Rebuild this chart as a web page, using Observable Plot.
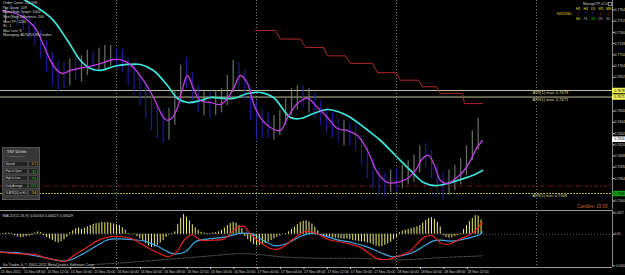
<!DOCTYPE html>
<html><head><meta charset="utf-8">
<script src="https://cdn.jsdelivr.net/npm/d3@7"></script>
<script src="https://cdn.jsdelivr.net/npm/@observablehq/plot@0.6"></script>
<style>
html,body{margin:0;padding:0;background:#000;overflow:hidden;}
#wrap{position:relative;width:625px;height:275px;background:#000;overflow:hidden;}
#main{position:absolute;left:0;top:0;}
#sub{position:absolute;left:0;top:208px;}
#ov{position:absolute;left:0;top:0;width:1250px;height:550px;transform:scale(0.5);transform-origin:0 0;font-family:"Liberation Sans",Arial,sans-serif;color:#d0d0d0;pointer-events:none;}
#ov div{position:absolute;white-space:pre;}
</style></head>
<body><div id="wrap"><div id="main"></div><div id="sub"></div><div id="ov"></div></div>
<script>
// ---------- time axis (hours since 15 Nov 2011 00:00) ----------
const xTickHours = [4,8,12,16,20,24,28,32,36,40,44,48,52,56,60,64,68,72,76,80,84];
const xTickLabels = ["15 Nov 2011","15 Nov 08:00","15 Nov 12:00","15 Nov 16:00","15 Nov 20:00","16 Nov 00:00","16 Nov 04:00","16 Nov 08:00","16 Nov 12:00","16 Nov 16:00","16 Nov 20:00","17 Nov 00:00","17 Nov 04:00","17 Nov 08:00","17 Nov 12:00","17 Nov 16:00","17 Nov 20:00","18 Nov 00:00","18 Nov 04:00","18 Nov 08:00","18 Nov 12:00"];
const daySeparators = [24, 48, 72, 96];

// ---------- price axis ----------
const priceTicks = [0.7764,0.7752,0.7740,0.7728,0.7716,0.7704,0.7692,0.7680,0.7668,0.7656,0.7644,0.7632,0.7620,0.7608,0.7596,0.7584,0.7572,0.7560];
const atrMax = [0.7678, 0.7671];
const atrMin = 0.7568;
const bidPrice = 0.7626;
const redLevel = 0.7576;
const atrLabelHour = 95.3;

// ---------- hourly bars (first bar 15 Nov 05:00) ----------
const barStartHour = 5;
const barHigh = [0.7766,0.7769,0.7766,0.7761,0.7758,0.7751,0.7742,0.7731,0.7719,0.7710,
 0.7708,0.7712,0.7715,0.7715,0.7721,0.7719,0.7723,0.7726,0.7726,0.7723,
 0.7721,0.7712,0.7705,0.7694,0.7683,0.7673,0.7662,0.7657,0.7659,0.7678,
 0.7705,0.7712,0.7697,0.7683,0.7678,0.7676,0.7678,0.7680,0.7694,0.7710,
 0.7708,0.7699,0.7680,0.7667,0.7657,0.7654,0.7651,0.7657,0.7669,0.7680,
 0.7683,0.7683,0.7680,0.7676,0.7667,0.7659,0.7654,0.7648,0.7646,0.7644,
 0.7641,0.7630,0.7619,0.7605,0.7595,0.7590,0.7593,0.7595,0.7598,0.7603,
 0.7609,0.7619,0.7622,0.7614,0.7598,0.7590,0.7593,0.7598,0.7605,0.7619,
 0.7635,0.7648];
const barLow = [0.7751,0.7753,0.7747,0.7742,0.7734,0.7726,0.7712,0.7697,0.7683,0.7676,
 0.7680,0.7683,0.7689,0.7687,0.7694,0.7697,0.7699,0.7701,0.7704,0.7701,
 0.7697,0.7683,0.7673,0.7662,0.7648,0.7635,0.7627,0.7622,0.7625,0.7641,
 0.7667,0.7680,0.7667,0.7654,0.7651,0.7648,0.7651,0.7654,0.7662,0.7676,
 0.7678,0.7667,0.7646,0.7625,0.7627,0.7627,0.7625,0.7630,0.7641,0.7651,
 0.7657,0.7659,0.7654,0.7648,0.7641,0.7633,0.7627,0.7622,0.7619,0.7619,
 0.7614,0.7598,0.7584,0.7573,0.7566,0.7565,0.7569,0.7571,0.7573,0.7577,
 0.7580,0.7590,0.7595,0.7584,0.7566,0.7561,0.7566,0.7571,0.7577,0.7587,
 0.7603,0.7614];
const barDir = "uddddddddd"+"duduuduuud"+"dddddddduu"+"uddduduuuu"+"dddddduuuu"+"ududddddud"+"dddddduduu"+"uudddduuuu"+"uu";

// ---------- moving averages ----------
const slowMaHours = [7.54,12.69,15.60,17.83,19.54,21.26,23.49,25.89,28.11,30.34,32.74,34.46,36.17,38.40,40.11,42.34,44.06,46.46,48.68,50.91,53.83,55.54,57.77,60.17,62.40,64.11,66.69,69.26,71.83,74.40,76.63,78.69,80.74,82.97,85.03,86.74];
const slowMaValues = [0.77773,0.77560,0.77314,0.77100,0.77015,0.76994,0.77036,0.77058,0.77058,0.76994,0.76833,0.76695,0.76652,0.76673,0.76705,0.76695,0.76695,0.76748,0.76759,0.76705,0.76491,0.76481,0.76534,0.76577,0.76545,0.76491,0.76374,0.76246,0.76086,0.75926,0.75798,0.75765,0.75787,0.75830,0.75872,0.75926];
const fastMaHours = [4.46,6.17,8.40,10.11,11.31,12.34,13.54,14.74,16.11,17.49,19.20,21.26,23.49,25.20,26.91,28.63,30.34,32.06,32.74,33.60,34.46,35.31,36.17,37.20,38.40,40.11,41.83,43.03,44.06,45.26,46.46,47.49,48.68,50.40,52.11,53.31,55.03,56.74,58.46,60.17,61.89,63.60,65.31,67.03,68.74,70.46,72.17,73.89,75.26,76.46,77.49,78.51,79.54,80.74,82.11,83.31,84.69,85.71,86.74];
const fastMaValues = [0.77634,0.77613,0.77549,0.77442,0.77293,0.77143,0.77015,0.76962,0.76994,0.77015,0.77036,0.77068,0.77111,0.77100,0.77026,0.76887,0.76705,0.76491,0.76460,0.76491,0.76598,0.76801,0.76940,0.76801,0.76673,0.76652,0.76630,0.76695,0.76801,0.76940,0.76855,0.76641,0.76491,0.76385,0.76353,0.76491,0.76641,0.76695,0.76598,0.76491,0.76374,0.76353,0.76299,0.76139,0.75904,0.75798,0.75798,0.75840,0.75926,0.76054,0.76086,0.75979,0.75819,0.75787,0.75840,0.75904,0.76033,0.76161,0.76246];

// ---------- trailing stop steps ----------
const stopHours = [47.83,51.26,52.11,55.54,56.40,59.50,60.17,63.26,64.11,67.89,68.74,71.97,72.66,75.77,76.46,78.86,79.54,83.31,83.66,86.74];
const stopValues = [0.7742,0.7742,0.7733,0.7733,0.7724,0.7724,0.7715,0.7715,0.7707,0.7707,0.7697,0.7697,0.7689,0.7689,0.7682,0.7682,0.7675,0.7675,0.7664,0.7664];

// ---------- MACD (values in units of 0.00001), half-hourly from 04:30 ----------
const histStartHour = 4.5;
const macdHist = [10,15,12,8, -20,-35,-45,-40,-30,-25,-15, 15,30,20,
 -20,-40,-60,-80,-100,-110,-95,-70,-40,
 20,45,70,80,60,75,95,110,125,135,140,150,145,150,140,130,120,110,80,50,
 10,-5,5, -30,-60,-90,-120,-150,-165,-160,-140,-110,-80,-40,
 -10,10,30, 120,200,250,215, 170,120,80,50, 25,15,10,10,15,20,30,
 50,80,110,135,150,140,110,70,
 -30,-70,-100,-130,-145,-140,-130,-120,-100,-80,-60,-40,-20, -5,10,
 30,60,90,120,150,165,170,155,130,90,45,
 -10,-20,-30,-40,-45,-50,-55,-60,-65,-60,-70,-80,-85,-90,-95,-100,-110,-120,-135,-150,-160,-155,-140,-120,-100,-70,-40,
 20,40,50,60,70,80,95,110,140,175,200,210,190,150,90,
 -20,-40,-50,-45,-30,-15,10, 60,110,160,200,235,230,180];
const macdRedHours = [4.1,6.9,10.3,11.7,13.7,15.1,17.1,18.5,20.6,22.6,24.7,26.7,28.8,30.9,32.9,34.3,35.7,37.0,38.4,40.5,42.5,44.6,45.9,46.6,48.7,50.7,52.1,54.2,56.2,58.3,60.3,63.1,65.8,68.6,70.6,72.0,74.1,76.8,78.2,79.5,80.9,83.0,85.0,86.7];
const macdRedValues = [-225,-245,-257,-296,-324,-344,-245,-186,-87,-36,-28,-59,-146,-225,-284,-225,-67,-8,-75,-75,-59,83,99,32,-107,-186,-178,-67,32,12,-67,-107,-166,-304,-316,-284,-225,-36,-20,-107,-126,-59,12,150];
const macdBlueHours = [4.1,6.9,9.6,12.3,14.4,15.8,17.8,20.6,22.6,24.7,26.7,28.8,30.9,33.6,35.7,37.7,39.8,42.5,45.3,47.3,49.4,51.4,53.5,55.5,57.6,59.7,61.7,64.5,67.2,69.3,71.3,72.7,74.7,76.8,78.2,79.5,81.6,83.7,86.4,86.7];
const macdBlueValues = [-225,-233,-265,-304,-336,-332,-265,-146,-67,-59,-67,-87,-146,-245,-225,-87,-59,-36,12,4,-87,-146,-107,-28,12,-20,-67,-107,-166,-233,-284,-273,-233,-146,-87,-75,-87,-59,0,32];
const macdDotHours = [19.9,24.7,31.5,38.4,45.3,48.7,52.1,59.0,65.8,72.7,79.5,86.7];
const macdDotValues = [-383,-363,-324,-284,-245,-257,-284,-304,-304,-324,-296,-273];
const macdTicks = [0.0027, 0, -0.0040];

// ---------- texts ----------
const infoLines = ["Order Count: 111.096","Pip Count: 109","Base Stop Target: 1000","Next Stop Difference: 200","Next TP: 1200","SL: 1","Max Lots: 8","Managing: All NZDUSD trades"];
const atrTexts = ["ATR(1) max: 0.7678","ATR(1) max: 0.7671","ATR(1) min: 0.7568"];
const candleTimer = "Candles: 15:09";
const macdTitle = "MACD(12,26,9) 0.00163 0.00027 0.00029";
const copyright = "Go Trader 4, \u00a9 2001-2011 MetaQuotes Software Corp.";
const mtfTitle = "ManageTP v2.4";
const mtfSymbol = "NZDUSD";
const mtfPeriods = ["H1","H4","D1","W1","MN"];
const mtfDirs = ["down","up","up","down","down"];
const mtfStrength = ["66","71","33","28","33"];
const tsvTitle = "TSV '04 Info";
const tsvSub = "\u00a9 Peter G in FF";
const tsvLabels = ["Spread:","Pips to Open:","High to Low:","Daily Average:","% ATR(20) to H-L:"];
const tsvValues = ["3.7","32","93","123","54"];

// ---------- build tables ----------
const X0 = 4.114, X1 = 109.03;
const P0 = 0.755091, P1 = 0.777412;
const M0 = -0.0042, M1 = 0.0030;
const fmt4 = d3.format(".4f");
const labelMap = new Map(xTickHours.map((h, i) => [h, xTickLabels[i]]));
const bars = barHigh.map((hi, i) => ({h: barStartHour + i, hi, lo: barLow[i], up: barDir[i] === "u"}));
const slowMa = slowMaHours.map((h, i) => ({h, p: slowMaValues[i]}));
const fastMa = fastMaHours.map((h, i) => ({h, p: fastMaValues[i]}));
const stops = stopHours.map((h, i) => ({h, p: stopValues[i]}));
const hist = macdHist.map((v, i) => ({h: histStartHour + i * 0.5, v: v / 1e5}));
const red = macdRedHours.map((h, i) => ({h, v: macdRedValues[i] / 1e5}));
const blue = macdBlueHours.map((h, i) => ({h, v: macdBlueValues[i] / 1e5}));
const dots = macdDotHours.map((h, i) => ({h, v: macdDotValues[i] / 1e5}));
const atrLabels = [{p: atrMax[0], t: atrTexts[0]}, {p: atrMax[1], t: atrTexts[1]}, {p: atrMin, t: atrTexts[2]}];
const priceTags = [
  {p: atrMax[0], bg: "#f2f25a", fg: "#000"},
  {p: atrMax[1], bg: "#f2f25a", fg: "#000"},
  {p: bidPrice, bg: "#ffffff", fg: "#000"},
  {p: atrMin, bg: "#1c9c1c", fg: "#000"}
];
// grid labels hidden where a highlighted price tag sits (as in the terminal)
const shownTicks = priceTicks.filter(t => priceTags.every(g => Math.abs(g.p - t) > 0.0005));

const FONT = "'Liberation Sans', Arial, sans-serif";
const GRID = "#8c8c8c";

const main = Plot.plot({
  width: 625, height: 209,
  marginTop: 0, marginBottom: 0, marginLeft: 0, marginRight: 13,
  style: {background: "transparent", overflow: "visible", fontFamily: FONT, color: "#d0d0d0"},
  x: {domain: [X0, X1], axis: null},
  y: {domain: [P0, P1], axis: null},
  color: {type: "identity"},
  marks: [
    Plot.ruleX(daySeparators, {stroke: GRID, strokeDasharray: "1,2", strokeWidth: 0.9}),
    Plot.ruleY(atrMax, {stroke: "#d6d6a6", strokeWidth: 0.9}),
    Plot.ruleY([atrMin], {stroke: "#c2c24e", strokeWidth: 0.9, strokeDasharray: "2,1"}),
    Plot.ruleY([redLevel], {stroke: "#8e1c1c", strokeWidth: 0.9, strokeDasharray: "4,2,1,2"}),
    Plot.ruleX(bars, {x: "h", y1: "lo", y2: "hi", stroke: d => d.up ? "#7e8e7e" : "#2222b8", strokeWidth: 1.2, strokeOpacity: 0.8}),
    Plot.line(stops, {x: "h", y: "p", stroke: "#b02a2a", strokeWidth: 1}),
    Plot.line(slowMa, {x: "h", y: "p", stroke: "#3ee6dc", strokeWidth: 1.7, curve: "catmull-rom", clip: true}),
    Plot.line(fastMa, {x: "h", y: "p", stroke: "#c040e4", strokeWidth: 1.3, curve: "catmull-rom", clip: true}),
    Plot.text(atrLabels, {x: atrLabelHour, y: "p", text: "t", dy: 2.3, textAnchor: "start", fill: "#d8d89c", fontSize: 4}),
    Plot.text([candleTimer], {frameAnchor: "bottom-right", dx: -5, dy: -2, fill: "#c4602c", fontSize: 4.5}),
    Plot.ruleX([X1], {stroke: GRID, strokeWidth: 1}),
    Plot.axisY({anchor: "right", ticks: shownTicks, tickFormat: fmt4, tickSize: 1.5, tickPadding: 0.5, fontSize: 3.4, color: "#d4d4d4", label: null}),
    Plot.ruleY(priceTags, {y: "p", x1: X1, x2: X1 + 3, stroke: "bg", strokeWidth: 5.5}),
    Plot.text(priceTags, {y: "p", x: X1, dx: 1.8, text: d => fmt4(d.p), textAnchor: "start", fill: "fg", fontSize: 3.4})
  ]
});
document.getElementById("main").appendChild(main);

const sub = Plot.plot({
  width: 625, height: 67,
  marginTop: 2, marginBottom: 8, marginLeft: 0, marginRight: 13,
  style: {background: "transparent", overflow: "visible", fontFamily: FONT, color: "#d0d0d0"},
  x: {domain: [X0, X1]},
  y: {domain: [M0, M1]},
  marks: [
    Plot.ruleX(daySeparators, {stroke: GRID, strokeDasharray: "1,2", strokeWidth: 0.9}),
    Plot.ruleY([0], {stroke: "#5a5a5a", strokeDasharray: "1,2"}),
    Plot.ruleX(hist, {x: "h", y1: 0, y2: "v", stroke: "#f0f070", strokeWidth: 1}),
    Plot.line(dots, {x: "h", y: "v", stroke: "#7a7a7a", strokeDasharray: "1,1.5", strokeWidth: 0.8, curve: "catmull-rom"}),
    Plot.line(blue, {x: "h", y: "v", stroke: "#3eaae4", strokeWidth: 1.2, curve: "catmull-rom"}),
    Plot.line(red, {x: "h", y: "v", stroke: "#e02222", strokeWidth: 1.2, curve: "catmull-rom"}),
    Plot.ruleY([M0, M1], {stroke: "#9a9a9a", strokeWidth: 1}),
    Plot.ruleX([X1], {stroke: GRID, strokeWidth: 1}),
    Plot.axisY({anchor: "right", ticks: macdTicks, tickFormat: d => d === 0 ? "0.00" : d3.format(".4f")(d), tickSize: 1.5, tickPadding: 0.5, fontSize: 3.0, color: "#d4d4d4", label: null}),
    Plot.axisX({anchor: "bottom", ticks: xTickHours, tickFormat: d => labelMap.get(d), textAnchor: "start", tickSize: 2, tickPadding: 1, dx: 0.8, fontSize: 3.6, color: "#d0d0d0", label: null}),
    Plot.text([macdTitle], {frameAnchor: "top-left", dx: 2, dy: 4, fill: "#d0d0d0", fontSize: 3.8}),
    Plot.text([copyright], {frameAnchor: "bottom-left", dx: 2, dy: -1.5, fill: "#d0d0d0", fontSize: 3.8})
  ]
});
document.getElementById("sub").appendChild(sub);

// ---------- overlays (drawn at 2x then scaled 0.5) ----------
const ov = document.getElementById("ov");
function add(text, css) { const d = document.createElement("div"); d.textContent = text; d.style.cssText += css; ov.appendChild(d); return d; }
add(infoLines.join("\n"), "left:6px;top:1px;font-size:7.2px;line-height:9.2px;color:#d8d8d8;");
// MTF table
add(mtfTitle, "left:1166px;top:3px;font-size:7px;color:#d0d0d0;");
add("", "left:1216px;top:4px;width:6px;height:6px;border:1px solid #d0d0d0;");
const colX = [1152, 1167, 1182, 1197, 1212];
const strengthColors = ["#e8e040", "#d8d8d8", "#22cc22", "#b0b0b0", "#b0b0b0"];
mtfPeriods.forEach((p, i) => add(p, `left:${colX[i]}px;top:14px;font-size:7px;color:#e8e040;`));
add(mtfSymbol, "left:1114px;top:24px;font-size:7px;color:#e0d820;");
mtfDirs.forEach((d, i) => add(d === "up" ? "\u2191" : "\u2193", `left:${colX[i] + 1}px;top:20px;font-size:11px;font-weight:bold;color:${d === "up" ? "#2a3cff" : "#ff2020"};`));
mtfStrength.forEach((s, i) => add(s, `left:${colX[i]}px;top:34px;font-size:7px;color:${strengthColors[i]};`));
// TSV info box
add("", "left:4px;top:294px;width:76px;height:106px;background:#383838;border:1px solid #6e6e6e;box-sizing:border-box;");
add(tsvTitle, "left:14px;top:299px;font-size:7px;color:#e4e4e4;");
add(tsvSub, "left:14px;top:308px;font-size:5px;color:#9a9a9a;");
const valColors = ["#e0a020", "#30c030", "#30c030", "#30c030", "#e8c020"];
tsvLabels.forEach((l, i) => {
  const top = 322 + i * 14.5;
  add(l, `left:9px;top:${top}px;width:47px;height:11px;background:#222;border:1px solid #5c5c5c;box-sizing:border-box;font-size:5.4px;line-height:9px;padding-left:1.5px;color:#d8d8d8;`);
  add(tsvValues[i], `left:57px;top:${top}px;width:18px;height:11px;background:#222;border:1px solid #5c5c5c;box-sizing:border-box;font-size:6.6px;line-height:9px;text-align:right;padding-right:2px;color:${valColors[i]};`);
});
</script>
</body></html>
